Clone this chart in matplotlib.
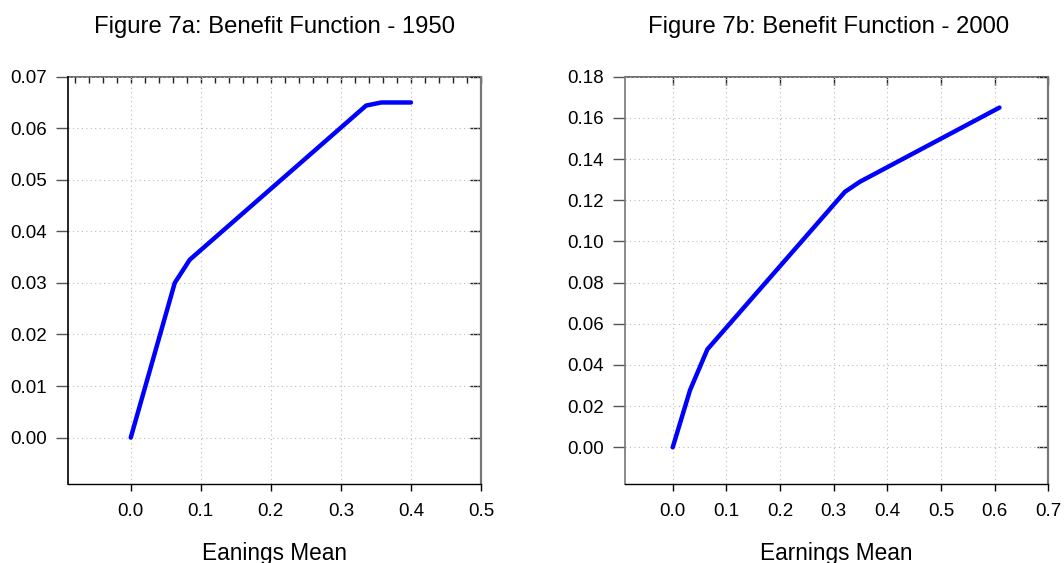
import numpy as np
import matplotlib
matplotlib.use("Agg")
import matplotlib.pyplot as plt
from matplotlib.ticker import MultipleLocator, FormatStrFormatter

plt.rcParams['font.family'] = ['Liberation Sans', 'DejaVu Sans']

# Benefit schedule, 1950
earn_1950 = [0.0, 0.0628, 0.0842, 0.336, 0.3576, 0.400]
benefit_1950 = [0.0, 0.0300, 0.0345, 0.0644, 0.0650, 0.0650]

# Benefit schedule, 2000
earn_2000 = [0.0, 0.0323, 0.0646, 0.321, 0.349, 0.609]
benefit_2000 = [0.0, 0.0278, 0.0476, 0.1241, 0.1290, 0.1650]

xticks_a = [0.0, 0.1, 0.2, 0.3, 0.4, 0.5]
yticks_a = [0.00, 0.01, 0.02, 0.03, 0.04, 0.05, 0.06, 0.07]
xticks_b = [0.0, 0.1, 0.2, 0.3, 0.4, 0.5, 0.6, 0.7]
yticks_b = [0.00, 0.02, 0.04, 0.06, 0.08, 0.10, 0.12, 0.14, 0.16, 0.18]

W, H = 1064, 563
fig = plt.figure(figsize=(W / 100, H / 100), dpi=100)


def panel(rect, x, y, xticks, yticks, xlim, ylim, top_step, top_len,
          title, xlabel, title_x, label_x, left_color):
    l, t, r, b = rect
    ax = fig.add_axes([l / W, 1 - b / H, (r - l) / W, (b - t) / H])
    ax.plot(x, y, color='#0000ff', lw=3.2, solid_capstyle='round')
    ax.set_xlim(*xlim)
    ax.set_ylim(*ylim)
    ax.set_xticks(xticks)
    ax.set_yticks(yticks)
    ax.xaxis.set_major_formatter(FormatStrFormatter('%.1f'))
    ax.yaxis.set_major_formatter(FormatStrFormatter('%.2f'))
    ax.grid(True, linestyle=(0, (1, 3)), color='#bbbbbb', lw=0.8)
    ax.tick_params(axis='x', direction='out', length=5, width=1,
                   labelsize=13.5, pad=9, top=False)
    ax.tick_params(axis='y', direction='out', length=9, width=1,
                   color='#555555', labelsize=13.5, pad=6, right=False)
    ax.spines['bottom'].set_color('black')
    ax.spines['bottom'].set_linewidth(1.0)
    ax.spines['left'].set_color(left_color)
    ax.spines['left'].set_linewidth(1.2)
    ax.spines['right'].set_color('#777777')
    ax.spines['right'].set_linewidth(1.6)
    ax.spines['top'].set_visible(False)

    # inward ticks along the top, dashed frame line
    top = ax.secondary_xaxis('top')
    top.xaxis.set_major_locator(MultipleLocator(top_step))
    top.tick_params(direction='in', length=top_len, width=1,
                    labeltop=False, color='#222222')
    top.spines['top'].set_linestyle((0, (4, 1)))
    top.spines['top'].set_color('#555555')
    top.spines['top'].set_linewidth(1.2)

    # inward ticks along the right edge
    rgt = ax.secondary_yaxis('right')
    rgt.set_yticks(yticks)
    rgt.tick_params(direction='in', length=8, width=1,
                    labelright=False, color='#222222')
    rgt.spines['right'].set_visible(False)

    fig.text(title_x / W, 1 - 33 / H, title, ha='center', va='baseline',
             fontsize=17.2)
    fig.text(label_x / W, 1 - 560 / H, xlabel, ha='center', va='baseline',
             fontsize=16.3)
    return ax


panel((67.5, 76.7, 481, 484), earn_1950, benefit_1950, xticks_a, yticks_a,
      (-0.0903, 0.5), (-0.009, 0.07), 0.02, 4,
      'Figure 7a: Benefit Function - 1950', 'Eanings Mean', 275, 274, 'black')

panel((624.7, 76.7, 1048.3, 484), earn_2000, benefit_2000, xticks_b, yticks_b,
      (-0.0895, 0.7), (-0.0178, 0.18), 0.1, 6,
      'Figure 7b: Benefit Function - 2000', 'Earnings Mean', 829, 836.7,
      '#777777')

fig.savefig('out.png', dpi=100)
